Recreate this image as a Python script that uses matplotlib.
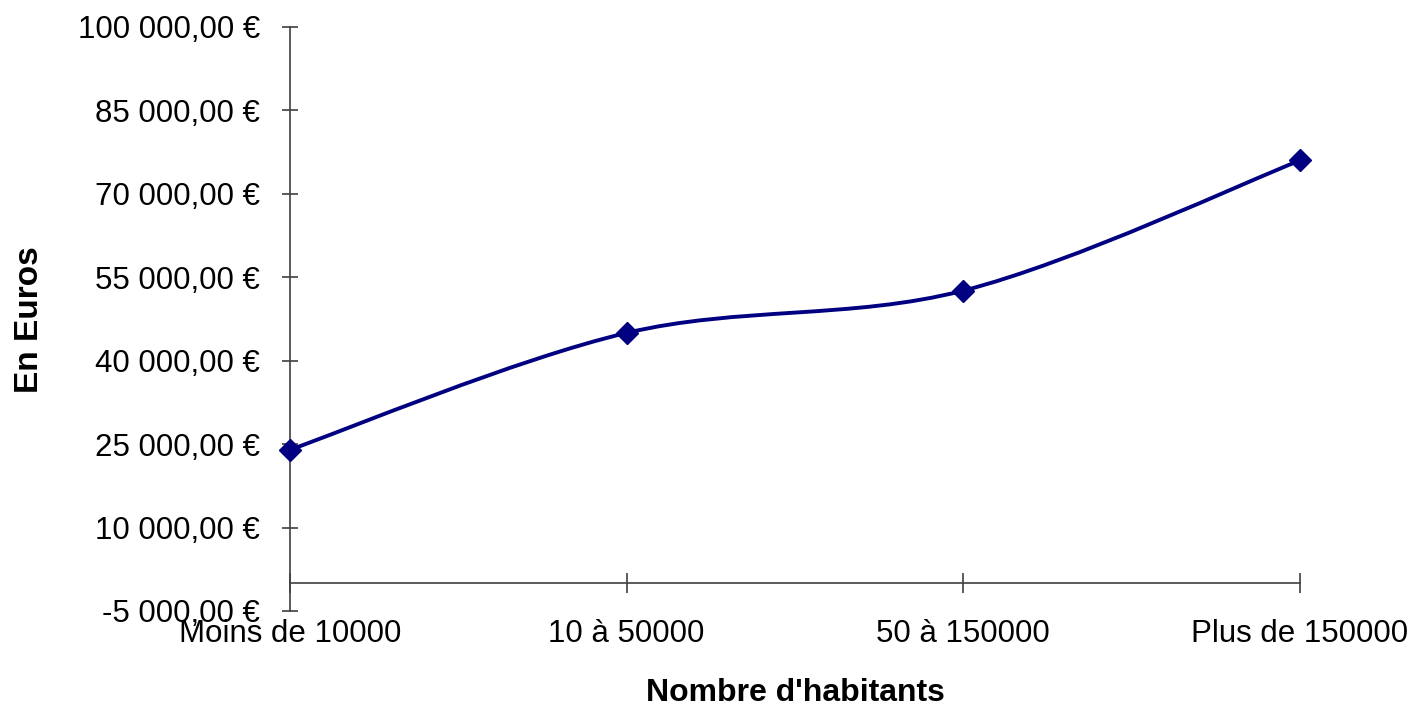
import numpy as np
import matplotlib.pyplot as plt
from matplotlib.path import Path
from matplotlib.patches import PathPatch

plt.rcParams['font.family'] = ['Liberation Sans', 'DejaVu Sans']

categories = ['Moins de 10000', '10 à 50000', '50 à 150000', 'Plus de 150000']
values = [24000, 45000, 52600, 76000]
yticks = [-5000, 10000, 25000, 40000, 55000, 70000, 85000, 100000]

navy = '#000080'
axis_col = '#404040'


def euro(v):
    s = f'{v:,.2f}'.replace(',', ' ').replace('.', ',')
    return s + ' €'


fig = plt.figure(figsize=(14.13, 7.16), dpi=100)
ax = fig.add_axes([290 / 1413, 105 / 716, 1010 / 1413, 584 / 716])

x = np.arange(len(categories))
y = np.array(values, dtype=float)

# smoothed line (Catmull-Rom as cubic bezier, like Excel's smoothed line)
pts = np.column_stack([x, y])
ext = np.vstack([pts[0], pts, pts[-1]])
verts = [tuple(pts[0])]
codes = [Path.MOVETO]
for i in range(len(pts) - 1):
    p0, p1, p2, p3 = ext[i], ext[i + 1], ext[i + 2], ext[i + 3]
    c1 = p1 + (p2 - p0) / 6
    c2 = p2 - (p3 - p1) / 6
    verts += [tuple(c1), tuple(c2), tuple(p2)]
    codes += [Path.CURVE4] * 3
ax.add_patch(PathPatch(Path(verts, codes), fill=False, edgecolor=navy,
                       lw=2.8, capstyle='round', joinstyle='round',
                       clip_on=False))
ax.plot(x, y, linestyle='none', marker='D', markersize=11.5, color=navy,
        clip_on=False, zorder=5)

ax.set_xlim(0, 3)
ax.set_ylim(-5000, 100000)

ax.spines['top'].set_visible(False)
ax.spines['right'].set_visible(False)
ax.spines['bottom'].set_position(('data', 0))
for s in ['left', 'bottom']:
    ax.spines[s].set_color(axis_col)
    ax.spines[s].set_linewidth(1.2)

ax.set_yticks(yticks)
ax.set_yticklabels([euro(v) for v in yticks])
ax.tick_params(axis='y', direction='inout', length=11, width=1.2,
               color=axis_col, labelsize=22.5, pad=16)

ax.set_xticks(x)
ax.set_xticklabels([])
ax.tick_params(axis='x', direction='inout', length=14, width=1.2,
               color=axis_col)
for xi, lab in zip(x, categories):
    ax.text(xi, -0.04, lab, transform=ax.get_xaxis_transform(),
            ha='center', va='center', fontsize=22.5)

fig.text(30 / 1413, 1 - 320 / 716, 'En Euros', rotation=90, ha='center',
         va='center', fontsize=24, fontweight='bold')
fig.text(795 / 1413, 1 - 693 / 716, "Nombre d'habitants", ha='center',
         va='center', fontsize=23, fontweight='bold')

fig.savefig('out.png', dpi=100)
